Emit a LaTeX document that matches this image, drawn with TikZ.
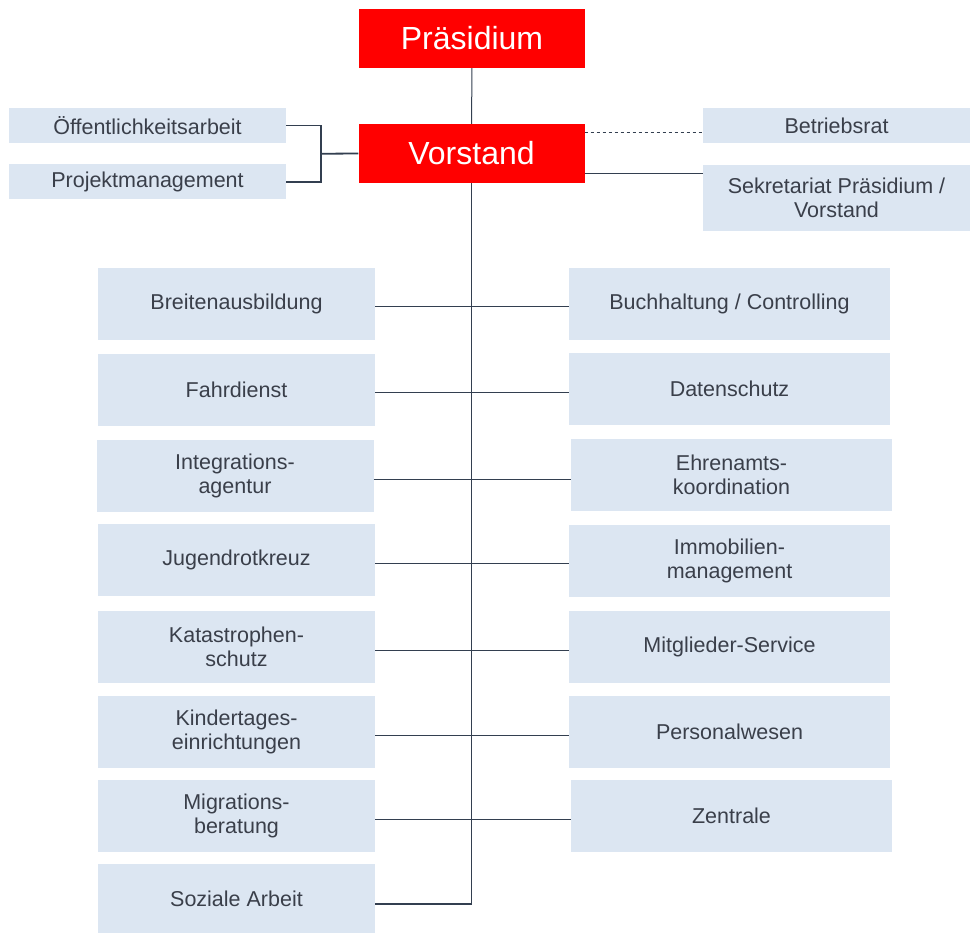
\documentclass[tikz,border=0pt]{standalone}
\usepackage{fontspec}
\setmainfont{Liberation Sans}
\usetikzlibrary{calc}
\definecolor{boxblue}{HTML}{DCE6F2}
\definecolor{linegray}{HTML}{333F50}
\definecolor{textgray}{HTML}{3A3F4A}
\tikzstyle{unit}=[rectangle,fill=boxblue,text=textgray,align=center,inner sep=0pt,minimum width=277pt,minimum height=72pt,font=\fontsize{21.5}{24}\selectfont]
\tikzstyle{runit}=[unit,minimum width=321pt]
\tikzstyle{staff}=[unit,minimum height=35pt]
\tikzstyle{board}=[rectangle,fill=red,text=white,inner sep=0pt,minimum width=226pt,minimum height=59pt,font=\fontsize{32}{36}\selectfont]
\tikzstyle{link} = [draw,linegray,line width=1pt]
\tikzstyle{thicklink} = [draw,linegray,line width=1.8pt]

\begin{document}
\begin{tikzpicture}[x=1pt,y=-1pt]
    \useasboundingbox (0,0) rectangle (970,933);
    % Leitung
    \node[board] (P) at (472,38.5) {Präsidium};
    \node[board] (V) at (471.5,153.5) {Vorstand};

    % Stabsstellen
    \node[staff] (OA) at (147.5,125.5) {Öffentlichkeitsarbeit};
    \node[staff] (PM) at (147.5,182) {Projektmanagement};
    \node[staff,minimum width=267pt] (BR) at (836.5,125.5) {Betriebsrat};
    \node[staff,minimum width=267pt,minimum height=66pt] (SK) at (836.5,198) {Sekretariat Präsidium /\\Vorstand};

    % Abteilungen links und rechts
    \foreach \pos/ \name/ \text in {{(236.5,304)/L1/{Breitenausbildung}},{(236.5,390)/L2/{Fahrdienst}},
        {(235,476)/L3/{Integrations-\\agentur}},{(236.5,560)/L4/{Jugendrotkreuz}},
        {(236.5,647)/L5/{Katastrophen-\\schutz}},{(236.5,732)/L6/{Kindertages-\\einrichtungen}},
        {(236.5,816)/L7/{Migrations-\\beratung}}}
        \node[unit] (\name) at \pos {\text};
    \node[unit,minimum height=69pt] (L8) at (236.5,898.5) {Soziale Arbeit};

    \foreach \pos/ \name/ \text in {{(729.5,304)/R1/{Buchhaltung / Controlling}},{(729.5,389)/R2/{Datenschutz}},
        {(731.5,475)/R3/{Ehrenamts-\\koordination}},{(729.5,561)/R4/{Immobilien-\\management}},
        {(729.5,647)/R5/{Mitglieder-Service}},{(729.5,732)/R6/{Personalwesen}},
        {(731.5,816)/R7/{Zentrale}}}
        \node[runit] (\name) at \pos {\text};

    % Verbindungen
    \coordinate (end) at ($(L8.east)+(0,5.5)$);
    \path[link] (P) -- (V);
    \path[link] (V.south) -- (V.south |- end);
    \path[thicklink] (end) -- (V.south |- end);
    \foreach \lbox/ \rbox in {L1/R1,L2/R2,L3/R3,L4/R4,L5/R5,L6/R6,L7/R7}{
        \coordinate (a) at ($(\lbox.east)+(0,3)$);
        \path[link] (a) -- (a -| \rbox.west);
    }

    \coordinate (fork) at ($(OA.east)!0.5!(PM.east)+(35,0)$);
    \path[thicklink] (OA.east) -- ++(35,0) |- (PM.east);
    \path[thicklink] (fork) -- (V.west);
    \coordinate (vb) at ($(V.east)+(0,-21)$);
    \coordinate (vs) at ($(V.east)+(0,20)$);
    \path[link, dashed] (vb) -- (vb -| BR.west);
    \path[thicklink] (vs) -- (vs -| SK.west);
\end{tikzpicture}
\end{document}
